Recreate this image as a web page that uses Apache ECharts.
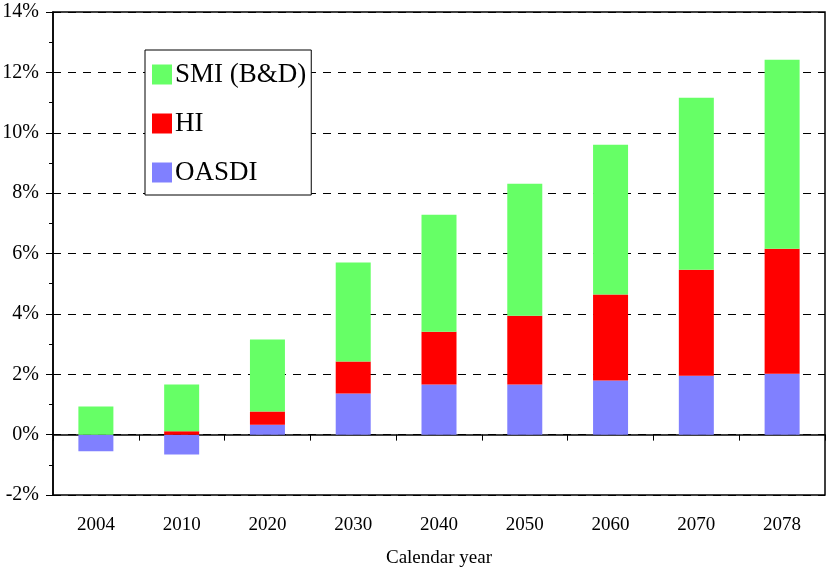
<!DOCTYPE html>
<html>
<head>
<meta charset="utf-8">
<script src="https://cdn.jsdelivr.net/npm/echarts@6/dist/echarts.min.js"></script>
<style>
  html, body { margin: 0; padding: 0; background: #fff; }
  #chart { width: 826px; height: 567px; }
</style>
</head>
<body>
<div id="chart"></div>
<script>
// data (percent)
var years = ['2004', '2010', '2020', '2030', '2040', '2050', '2060', '2070', '2078'];
var oasdi = [-0.55, -0.66, 0.33, 1.36, 1.66, 1.66, 1.79, 1.95, 2.02];
var hi    = [0.00, 0.11, 0.44, 1.06, 1.75, 2.28, 2.85, 3.51, 4.14];
var smi   = [0.93, 1.55, 2.38, 3.28, 3.87, 4.37, 4.96, 5.70, 6.26];

var serif = '"Liberation Serif", "DejaVu Serif", serif';

var myChart = echarts.init(document.getElementById('chart'));

var option = {
    animation: false,
    textStyle: { fontFamily: serif, color: '#000' },
    grid: {
        left: 53, right: 1, top: 12, bottom: 72,
        outerBoundsMode: 'none',
        containLabel: false,
        show: true, borderColor: '#000', borderWidth: 1.5, backgroundColor: 'transparent'
    },
    legend: {
        data: ['SMI (B&D)', 'HI', 'OASDI'],
        orient: 'vertical',
        left: 145, top: 50,
        padding: [11, 5, 9, 7],
        itemGap: 22,
        itemWidth: 20, itemHeight: 20,
        icon: 'rect',
        borderColor: '#000', borderWidth: 1,
        backgroundColor: '#fff',
        textStyle: { fontFamily: serif, fontSize: 27, color: '#000', padding: [0, 0, 0, -2] }
    },
    xAxis: [{
        type: 'category',
        data: years,
        axisLine: { onZero: true, lineStyle: { color: '#000', width: 1.5 } },
        axisTick: { show: true, length: 6, lineStyle: { color: '#000' } },
        axisLabel: { show: false }
    }, {
        type: 'category',
        data: years,
        position: 'bottom',
        axisLine: { show: false, onZero: false },
        axisTick: { show: false },
        axisLabel: { margin: 21, fontSize: 19, fontFamily: serif, color: '#000' },
        name: 'Calendar year',
        nameLocation: 'middle',
        nameGap: 54,
        nameTextStyle: { fontSize: 19, fontFamily: serif, color: '#000' }
    }],
    yAxis: {
        type: 'value',
        min: -2, max: 14, interval: 2,
        axisLine: { show: true, lineStyle: { color: '#000', width: 1.5 } },
        axisTick: { show: true, length: 7, lineStyle: { color: '#000' } },
        minorTick: { show: true, splitNumber: 2, length: 4, lineStyle: { color: '#000' } },
        axisLabel: { formatter: '{value}%', margin: 14, fontSize: 20, fontFamily: serif, color: '#000' },
        splitLine: { show: true, lineStyle: { color: '#000', type: [8, 7], width: 1 } }
    },
    series: [{
        name: 'OASDI',
        type: 'bar',
        stack: 'total',
        barWidth: 35,
        itemStyle: { color: '#8080FF' },
        data: oasdi
    }, {
        name: 'HI',
        type: 'bar',
        stack: 'total',
        barWidth: 35,
        itemStyle: { color: '#FF0000' },
        data: hi
    }, {
        name: 'SMI (B&D)',
        type: 'bar',
        stack: 'total',
        barWidth: 35,
        itemStyle: { color: '#66FF66' },
        data: smi
    }]
};

myChart.setOption(option);
</script>
</body>
</html>
